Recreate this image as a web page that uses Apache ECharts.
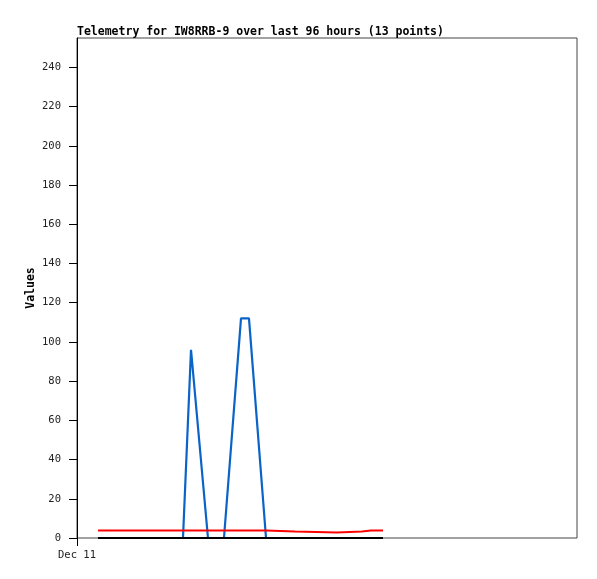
<!DOCTYPE html>
<html>
<head>
<meta charset="utf-8">
<script src="https://cdn.jsdelivr.net/npm/echarts@6/dist/echarts.min.js"></script>
<style>html,body{margin:0;padding:0;background:#fff;}#c{width:597px;height:579px;}</style>
</head>
<body>
<div id="c"></div>
<script>
// hours since start of the 96-hour window
var hours = [4.03, 20.35, 21.89, 25.15, 28.22, 31.49, 33.02, 36.29, 41.86, 49.92, 54.72, 56.45, 58.75];
var blueValues = [0, 0, 96, 0, 0, 112, 112, 0, 0, 0, 0, 0, 0];
var redValues = [3.8, 3.8, 3.8, 3.8, 3.8, 3.8, 3.8, 3.8, 3.3, 2.8, 3.3, 3.8, 3.8];
var blackValues = [0, 0, 0, 0, 0, 0, 0, 0, 0, 0, 0, 0, 0];
var yTicks = [0, 20, 40, 60, 80, 100, 120, 140, 160, 180, 200, 220, 240];
var xTicks = [0];
var xTickLabels = ['Dec 11'];
var titleText = 'Telemetry for IW8RRB-9 over last 96 hours (13 points)';
var yName = 'Values';

function pairs(vals) { return hours.map(function (h, i) { return [h, vals[i]]; }); }

var chart = echarts.init(document.getElementById('c'), null, {renderer: 'canvas'});
chart.setOption({
  animation: false,
  backgroundColor: '#ffffff',
  title: {
    text: titleText, left: 77, top: 26, padding: 0,
    textStyle: {fontFamily: 'DejaVu Sans Mono', fontWeight: 'bold', fontSize: 11.5, color: '#000'}
  },
  grid: {left: 77, top: 38, width: 500, height: 500, show: true, borderColor: '#444', borderWidth: 1, backgroundColor: '#fff'},
  xAxis: {
    type: 'value', min: 0, max: 96,
    axisLine: {show: false},
    splitLine: {show: false},
    axisTick: {show: true, length: 8, customValues: xTicks, lineStyle: {color: '#000'}},
    axisLabel: {customValues: xTicks, margin: 12, formatter: function (v) { var i = xTicks.indexOf(v); return i >= 0 ? xTickLabels[i] : ''; },
      fontFamily: 'DejaVu Sans Mono', fontSize: 10.5, color: '#222'}
  },
  yAxis: {
    type: 'value', min: 0, max: 255,
    name: yName, nameLocation: 'middle', nameGap: 40, nameMoveOverlap: false,
    nameTextStyle: {fontFamily: 'DejaVu Sans Mono', fontWeight: 'bold', fontSize: 11.5, color: '#000'},
    axisLine: {show: true, lineStyle: {color: '#000'}},
    splitLine: {show: false},
    axisTick: {show: true, length: 8, customValues: yTicks, lineStyle: {color: '#000'}},
    axisLabel: {customValues: yTicks, margin: 16, fontFamily: 'DejaVu Sans Mono', fontSize: 10.5, color: '#222'}
  },
  series: [
    {type: 'line', data: pairs(blueValues), showSymbol: false, lineStyle: {color: '#0a64c8', width: 2.2}, z: 2},
    {type: 'line', data: pairs(redValues), showSymbol: false, lineStyle: {color: '#ff0000', width: 2}, z: 3},
    {type: 'line', data: pairs(blackValues), showSymbol: false, lineStyle: {color: '#000000', width: 2}, z: 4}
  ]
});
</script>
</body>
</html>
